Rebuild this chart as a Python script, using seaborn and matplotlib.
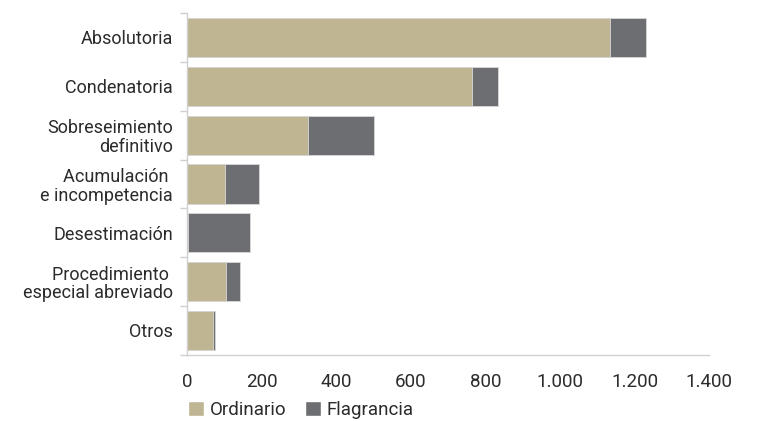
import pandas as pd
import numpy as np
import matplotlib.pyplot as plt
import seaborn as sns
from matplotlib.patches import Patch

sns.set_theme(style="white")
plt.rcParams["font.family"] = ["Roboto", "DejaVu Sans"]

# data
categorias = ["Absolutoria", "Condenatoria", "Sobreseimiento\ndefinitivo",
              "Acumulación \ne incompetencia", "Desestimación",
              "Procedimiento \nespecial abreviado", "Otros"]
ordinario = [1134, 765, 324, 102, 2, 105, 71]
flagrancia = [95, 68, 177, 90, 168, 37, 3]

df = pd.DataFrame({"Categoria": categorias,
                   "Ordinario": ordinario,
                   "Flagrancia": flagrancia})
df["Total"] = df["Ordinario"] + df["Flagrancia"]

c_ord = "#BFB592"
c_flag = "#6D6E71"
txt = "#2b2b2b"

fig, ax = plt.subplots(figsize=(7.57, 4.21), dpi=100)
fig.subplots_adjust(left=0.247, right=0.937, top=0.969, bottom=0.157)

# stacked bars: total first (gray), ordinary on top
sns.barplot(data=df, y="Categoria", x="Total", color=c_flag, orient="h",
            width=0.8, saturation=1, edgecolor="#d8d8d8", linewidth=0.6, ax=ax)
sns.barplot(data=df, y="Categoria", x="Ordinario", color=c_ord, orient="h",
            width=0.8, saturation=1, edgecolor="#d8d8d8", linewidth=0.6, ax=ax)

ax.set_xlim(0, 1400)
ax.set_ylim(6.5, -0.5)
ax.set_xticks(np.arange(0, 1401, 200))
ax.set_xticklabels(["0", "200", "400", "600", "800", "1.000", "1.200", "1.400"])
ax.set_yticks(np.arange(-0.5, 6.6, 1), minor=True)
ax.set_xlabel("")
ax.set_ylabel("")

for s in ["top", "right"]:
    ax.spines[s].set_visible(False)
for s in ["left", "bottom"]:
    ax.spines[s].set_color("#d0d0d0")
    ax.spines[s].set_linewidth(1)

ax.tick_params(axis="x", which="major", length=5, color="#d0d0d0",
               labelsize=13.5, labelcolor=txt, pad=8, direction="out")
ax.tick_params(axis="y", which="major", length=0, labelsize=13,
               labelcolor=txt, pad=10)
ax.tick_params(axis="y", which="minor", length=5, color="#d0d0d0",
               left=True, direction="out")
for lab in ax.get_yticklabels():
    lab.set_linespacing(1.05)

handles = [Patch(facecolor=c_ord, label="Ordinario"),
           Patch(facecolor=c_flag, label="Flagrancia")]
fig.legend(handles=handles, loc="lower left", bbox_to_anchor=(0.226, -0.035),
           ncol=2, frameon=False, fontsize=13.5, handlelength=0.85,
           handleheight=0.85, handletextpad=0.3, columnspacing=1.0,
           labelcolor=txt)

plt.savefig("out.png", dpi=100)
